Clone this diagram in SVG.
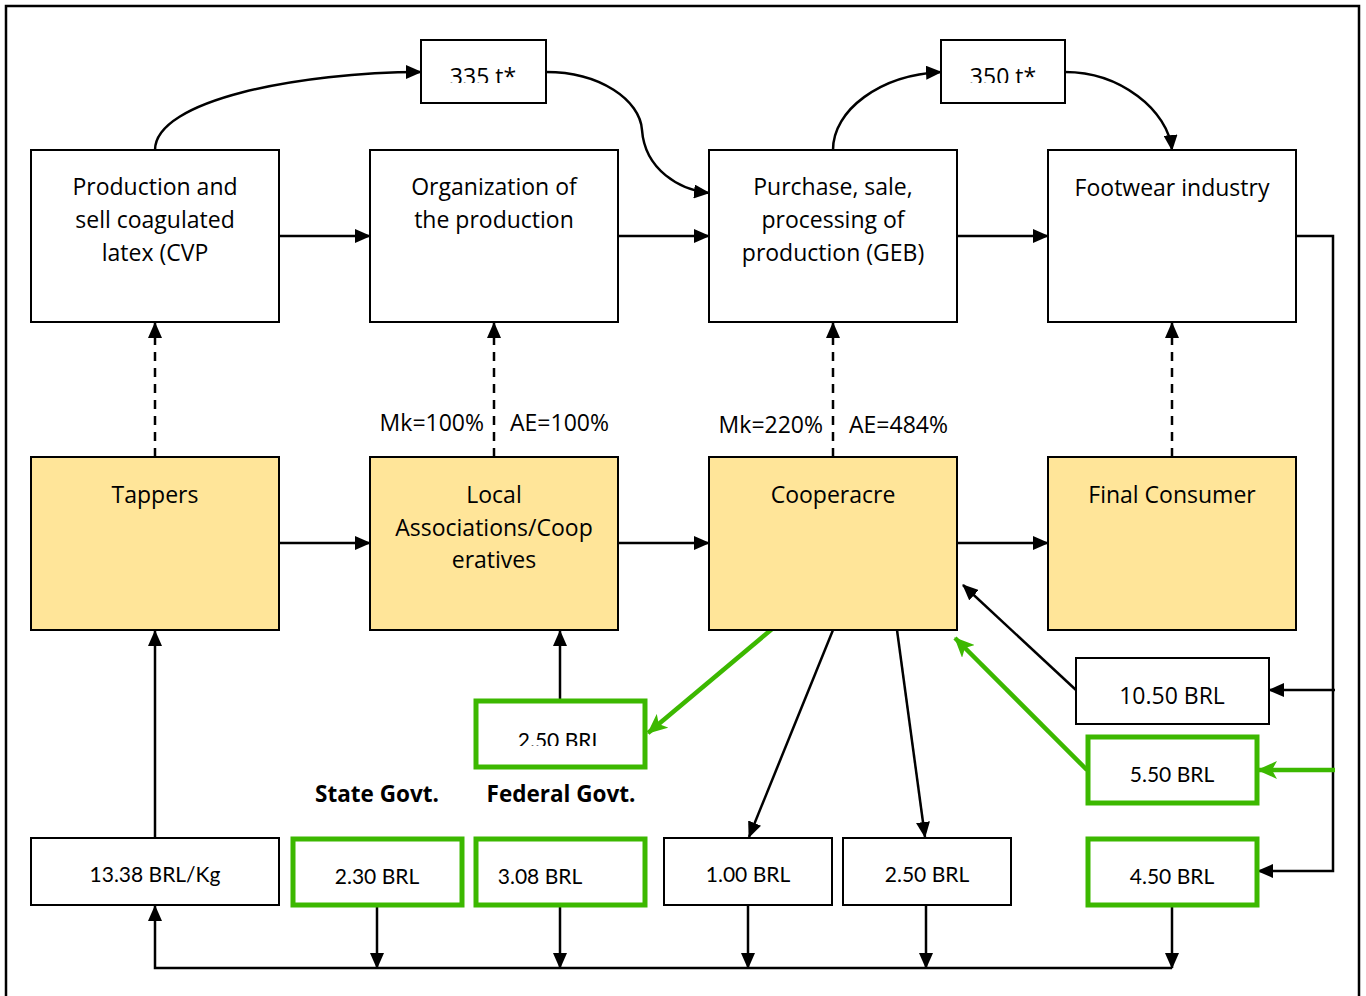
<svg xmlns="http://www.w3.org/2000/svg" width="1366" height="996" viewBox="0 0 1366 996">
<defs>
<marker id="ah" markerUnits="userSpaceOnUse" markerWidth="16" markerHeight="14" viewBox="0 0 16 14" refX="15" refY="7" orient="auto"><path d="M0,0 L16,7 L0,14 Z" fill="#000"/></marker>
<marker id="ahg" markerUnits="userSpaceOnUse" markerWidth="20" markerHeight="18" viewBox="0 0 20 18" refX="19" refY="9" orient="auto"><path d="M0,0 L20,9 L0,18 L5,9 Z" fill="#3CB800"/></marker>
<clipPath id="c335" clipPathUnits="userSpaceOnUse"><rect x="421" y="40" width="126" height="43"/></clipPath>
<clipPath id="c350" clipPathUnits="userSpaceOnUse"><rect x="941" y="40" width="125" height="43"/></clipPath>
<clipPath id="c250" clipPathUnits="userSpaceOnUse"><rect x="475" y="700" width="172" height="46"/></clipPath>
<style>
.box{fill:#fff;stroke:#000;stroke-width:2}
.yel{fill:#FFE599;stroke:#000;stroke-width:2}
.gbox{fill:#fff;stroke:#3CB800;stroke-width:5}
.t{font-family:"Open Sans","Noto Sans",sans-serif;font-size:23px;fill:#000;text-anchor:middle}
.s{font-family:Lato,"Open Sans",sans-serif;font-size:21px;fill:#000;text-anchor:middle}
.b{font-family:"Open Sans","Noto Sans",sans-serif;font-size:22.5px;font-weight:bold;fill:#000;text-anchor:middle}
.ln{fill:none;stroke:#000;stroke-width:2.5}
.dash{fill:none;stroke:#000;stroke-width:2.5;stroke-dasharray:9,7}
.gl{fill:none;stroke:#3CB800;stroke-width:4.5}
</style>
</defs>
<rect x="0" y="0" width="1366" height="996" fill="#fff"/>
<path d="M6,1000 L6,6 L1359,6 L1359,1000" fill="none" stroke="#000" stroke-width="2.5"/>

<g id="connectors">
<path class="ln" d="M155,150 C155,100 300,72 421,72" marker-end="url(#ah)"/>
<path class="ln" d="M546,72 C600,72 640,100 642,130 C645,170 680,190 709,193" marker-end="url(#ah)"/>
<path class="ln" d="M833,150 C833,110 880,75 941,72" marker-end="url(#ah)"/>
<path class="ln" d="M1065,72 C1120,72 1168,110 1172,150" marker-end="url(#ah)"/>
<path class="ln" d="M279,236 L370,236" marker-end="url(#ah)"/>
<path class="ln" d="M618,236 L709,236" marker-end="url(#ah)"/>
<path class="ln" d="M957,236 L1048,236" marker-end="url(#ah)"/>
<path class="ln" d="M279,543 L370,543" marker-end="url(#ah)"/>
<path class="ln" d="M618,543 L709,543" marker-end="url(#ah)"/>
<path class="ln" d="M957,543 L1048,543" marker-end="url(#ah)"/>
<path class="dash" d="M155,457 L155,323" marker-end="url(#ah)"/>
<path class="dash" d="M494,457 L494,323" marker-end="url(#ah)"/>
<path class="dash" d="M833,457 L833,323" marker-end="url(#ah)"/>
<path class="dash" d="M1172,457 L1172,323" marker-end="url(#ah)"/>
<path class="ln" d="M1296,236 L1333,236 L1333,871 L1258,871" marker-end="url(#ah)"/>
<path class="ln" d="M1335,690 L1269,690" marker-end="url(#ah)"/>
<path class="gl" d="M1335,770 L1258,770" marker-end="url(#ahg)"/>
<path class="ln" d="M1076,690 L963,585" marker-end="url(#ah)"/>
<path class="gl" d="M1087,770 L955,638" marker-end="url(#ahg)"/>
<path class="gl" d="M772,629 L648,733" marker-end="url(#ahg)"/>
<path class="ln" d="M833,630 L749,837" marker-end="url(#ah)"/>
<path class="ln" d="M897,630 L925,837" marker-end="url(#ah)"/>
<path class="ln" d="M560,700 L560,631" marker-end="url(#ah)"/>
<path class="ln" d="M155,838 L155,631" marker-end="url(#ah)"/>
<path class="ln" d="M1172,968 L155,968 L155,906" marker-end="url(#ah)"/>
<path class="ln" d="M377,906 L377,968" marker-end="url(#ah)"/>
<path class="ln" d="M560,906 L560,968" marker-end="url(#ah)"/>
<path class="ln" d="M748,906 L748,968" marker-end="url(#ah)"/>
<path class="ln" d="M926,906 L926,968" marker-end="url(#ah)"/>
<path class="ln" d="M1172,906 L1172,968" marker-end="url(#ah)"/>
</g>

<g id="n-335"><rect class="box" x="421" y="40" width="125" height="63"/><text class="t" x="483" y="85" clip-path="url(#c335)">335 t*</text></g>
<g id="n-350"><rect class="box" x="941" y="40" width="124" height="63"/><text class="t" x="1003" y="85" clip-path="url(#c350)">350 t*</text></g>

<g id="n-production"><rect class="box" x="31" y="150" width="248" height="172"/><text class="t" x="155" y="195">Production and</text><text class="t" x="155" y="228">sell coagulated</text><text class="t" x="155" y="261">latex (CVP</text></g>
<g id="n-organization"><rect class="box" x="370" y="150" width="248" height="172"/><text class="t" x="494" y="195">Organization of</text><text class="t" x="494" y="228">the production</text></g>
<g id="n-purchase"><rect class="box" x="709" y="150" width="248" height="172"/><text class="t" x="833" y="195">Purchase, sale,</text><text class="t" x="833" y="228">processing of</text><text class="t" x="833" y="261">production (GEB)</text></g>
<g id="n-footwear"><rect class="box" x="1048" y="150" width="248" height="172"/><text class="t" x="1172" y="196">Footwear industry</text></g>

<g id="labels">
<text class="t" x="484" y="431" style="text-anchor:end">Mk=100%</text>
<text class="t" x="510" y="431" style="text-anchor:start">AE=100%</text>
<text class="t" x="823" y="433" style="text-anchor:end">Mk=220%</text>
<text class="t" x="849" y="433" style="text-anchor:start">AE=484%</text>
<text class="b" x="377" y="802">State Govt.</text>
<text class="b" x="561" y="802">Federal Govt.</text>
</g>

<g id="n-tappers"><rect class="yel" x="31" y="457" width="248" height="173"/><text class="t" x="155" y="503">Tappers</text></g>
<g id="n-local"><rect class="yel" x="370" y="457" width="248" height="173"/><text class="t" x="494" y="503">Local</text><text class="t" x="494" y="536">Associations/Coop</text><text class="t" x="494" y="568">eratives</text></g>
<g id="n-cooperacre"><rect class="yel" x="709" y="457" width="248" height="173"/><text class="t" x="833" y="503">Cooperacre</text></g>
<g id="n-final"><rect class="yel" x="1048" y="457" width="248" height="173"/><text class="t" x="1172" y="503">Final Consumer</text></g>

<g id="n-250a"><rect class="gbox" x="476" y="701" width="169" height="66"/><text class="s" x="560" y="748" clip-path="url(#c250)">2.50 BRL</text></g>
<g id="n-1050"><rect class="box" x="1076" y="658" width="193" height="66"/><text class="t" x="1172" y="704">10.50 BRL</text></g>
<g id="n-550"><rect class="gbox" x="1088" y="737" width="169" height="66"/><text class="s" x="1172" y="782">5.50 BRL</text></g>

<g id="n-1338"><rect class="box" x="31" y="838" width="248" height="67"/><text class="s" x="155" y="882">13.38 BRL/Kg</text></g>
<g id="n-230"><rect class="gbox" x="293" y="839" width="169" height="66"/><text class="s" x="377" y="884">2.30 BRL</text></g>
<g id="n-308"><rect class="gbox" x="476" y="839" width="169" height="66"/><text class="s" x="540" y="884">3.08 BRL</text></g>
<g id="n-100"><rect class="box" x="664" y="838" width="168" height="67"/><text class="s" x="748" y="882">1.00 BRL</text></g>
<g id="n-250b"><rect class="box" x="843" y="838" width="168" height="67"/><text class="s" x="927" y="882">2.50 BRL</text></g>
<g id="n-450"><rect class="gbox" x="1088" y="839" width="169" height="66"/><text class="s" x="1172" y="884">4.50 BRL</text></g>
</svg>
